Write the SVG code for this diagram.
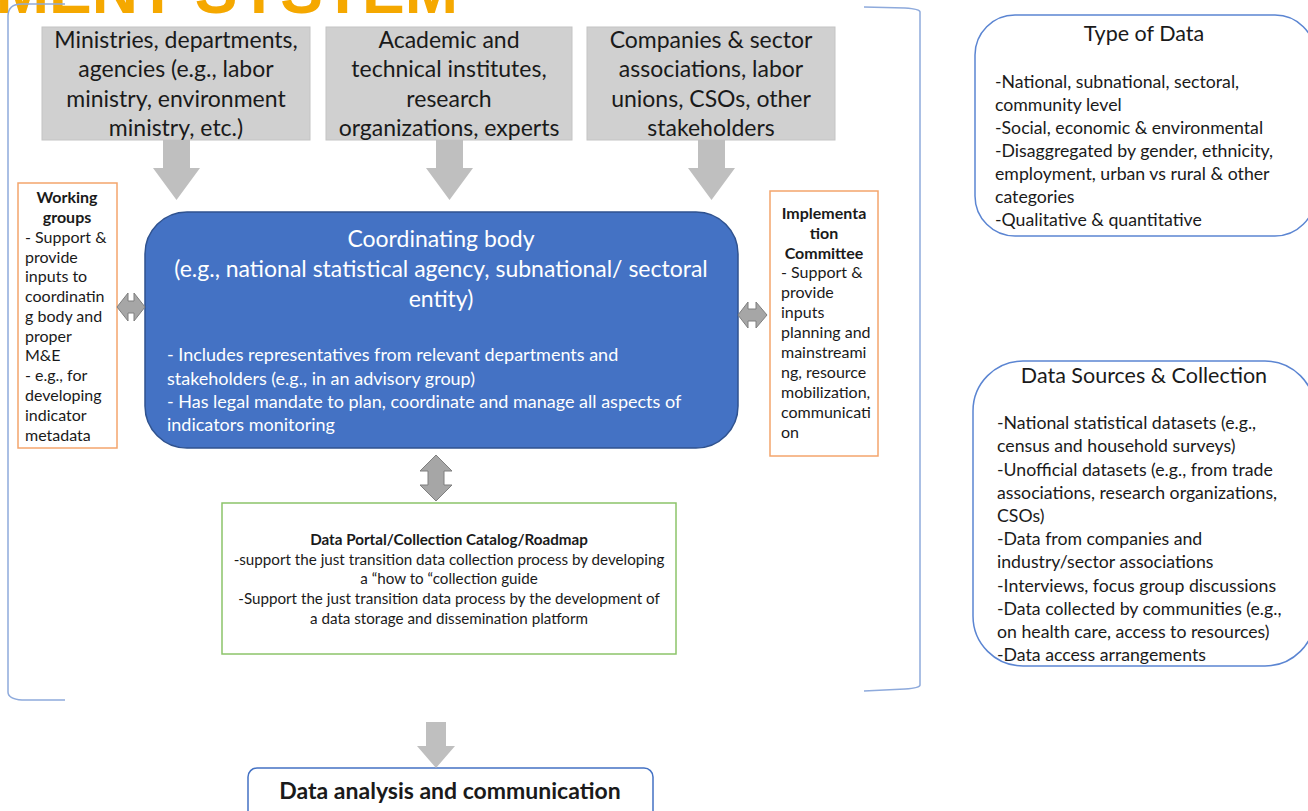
<svg xmlns="http://www.w3.org/2000/svg" width="1308" height="811" viewBox="0 0 1308 811">
  <style>
    .t { font-family: Lato, "Open Sans", "Liberation Sans", sans-serif; fill: #1a1a1a; }
    .b { font-weight: bold; }
    .c { text-anchor: middle; }
    .src rect { fill: #D0D0D0; stroke: #C4C4C4; stroke-width: 1; }
    .src text { font-size: 23px; }
    .side rect { fill: #ffffff; stroke: #F4A56C; stroke-width: 1.5; }
    .side text { font-size: 16px; }
    .card rect { fill: #ffffff; stroke: #5B85D2; stroke-width: 1.5; }
    .card text { font-size: 17.7px; }
    .card .h { font-size: 21.5px; }
    .frame { fill: none; stroke: #8EAADC; stroke-width: 1.5; }
    .down { fill: #BFBFBF; }
    .dbl { fill: #A6A6A6; stroke: #7F7F7F; stroke-width: 1; }
  </style>

  <!-- heading, clipped by the top edge -->
  <text x="458" y="13" font-family="'Liberation Sans', Arial, sans-serif" font-weight="bold" font-size="64" fill="#F5A800" text-anchor="end">MENT SYSTEM</text>

  <!-- bracket frame around the institutional setup -->
  <path class="frame" d="M65 4 L22 4 Q8 4 8 16 L8 692 Q8 699 22 700 L65 700"/>
  <path class="frame" d="M864 7 L905 8 Q920 9 920 12 L920 685 Q920 688 905 689 L864 691"/>

  <!-- data providers -->
  <g id="ministries" class="src">
    <rect x="42" y="27" width="268" height="113"/>
    <text class="t c" x="176" y="48">Ministries, departments,</text>
    <text class="t c" x="176" y="77">agencies (e.g., labor</text>
    <text class="t c" x="176" y="107">ministry, environment</text>
    <text class="t c" x="176" y="136">ministry, etc.)</text>
  </g>
  <g id="academia" class="src">
    <rect x="326" y="27" width="246" height="113"/>
    <text class="t c" x="449" y="48">Academic and</text>
    <text class="t c" x="449" y="77">technical institutes,</text>
    <text class="t c" x="449" y="107">research</text>
    <text class="t c" x="449" y="136">organizations, experts</text>
  </g>
  <g id="companies" class="src">
    <rect x="587" y="27" width="248" height="113"/>
    <text class="t c" x="711" y="48">Companies &amp; sector</text>
    <text class="t c" x="711" y="77">associations, labor</text>
    <text class="t c" x="711" y="107">unions, CSOs, other</text>
    <text class="t c" x="711" y="136">stakeholders</text>
  </g>

  <!-- coordinating body -->
  <g id="coordinating-body">
    <rect x="145" y="212" width="593" height="236" rx="42" fill="#4472C4" stroke="#2F528F" stroke-width="1.5"/>
    <g font-family="Lato, 'Open Sans', sans-serif" fill="#ffffff">
      <text x="441" y="247" font-size="23" text-anchor="middle">Coordinating body</text>
      <text x="441" y="277" font-size="23" text-anchor="middle">(e.g., national statistical agency, subnational/ sectoral</text>
      <text x="441" y="307" font-size="23" text-anchor="middle">entity)</text>
      <text x="167" y="361" font-size="18">- Includes representatives from relevant departments and</text>
      <text x="167" y="385" font-size="18">stakeholders (e.g., in an advisory group)</text>
      <text x="167" y="408" font-size="18">- Has legal mandate to plan, coordinate and manage all aspects of</text>
      <text x="167" y="431" font-size="18">indicators monitoring</text>
    </g>
  </g>

  <!-- working groups -->
  <g id="working-groups" class="side">
    <rect x="18" y="183" width="99" height="265"/>
    <text class="t b c" x="67" y="203">Working</text>
    <text class="t b c" x="67" y="223">groups</text>
    <text class="t" x="25" y="243">- Support &amp;</text>
    <text class="t" x="25" y="263">provide</text>
    <text class="t" x="25" y="282">inputs to</text>
    <text class="t" x="25" y="302">coordinatin</text>
    <text class="t" x="25" y="322">g body and</text>
    <text class="t" x="25" y="342">proper</text>
    <text class="t" x="25" y="361">M&amp;E</text>
    <text class="t" x="25" y="381">- e.g., for</text>
    <text class="t" x="25" y="401">developing</text>
    <text class="t" x="25" y="421">indicator</text>
    <text class="t" x="25" y="441">metadata</text>
  </g>

  <!-- implementation committee -->
  <g id="implementation-committee" class="side">
    <rect x="770" y="191" width="108" height="265"/>
    <text class="t b c" x="824" y="219">Implementa</text>
    <text class="t b c" x="824" y="239">tion</text>
    <text class="t b c" x="824" y="259">Committee</text>
    <text class="t" x="781" y="278">- Support &amp;</text>
    <text class="t" x="781" y="298">provide</text>
    <text class="t" x="781" y="318">inputs</text>
    <text class="t" x="781" y="338">planning and</text>
    <text class="t" x="781" y="358">mainstreami</text>
    <text class="t" x="781" y="378">ng, resource</text>
    <text class="t" x="781" y="398">mobilization,</text>
    <text class="t" x="781" y="418">communicati</text>
    <text class="t" x="781" y="438">on</text>
  </g>

  <!-- data portal -->
  <g id="data-portal">
    <rect x="222" y="503" width="454" height="151" fill="#ffffff" stroke="#8CC46A" stroke-width="1.5"/>
    <g class="t" font-size="15.2" text-anchor="middle">
      <text class="b" x="449" y="545">Data Portal/Collection Catalog/Roadmap</text>
      <text x="449" y="565">-support the just transition data collection process by developing</text>
      <text x="449" y="584">a “how to “collection guide</text>
      <text x="449" y="604">-Support the just transition data process by the development of</text>
      <text x="449" y="624">a data storage and dissemination platform</text>
    </g>
  </g>

  <!-- data analysis -->
  <g id="data-analysis">
    <rect x="248" y="768" width="405" height="60" rx="9" fill="#ffffff" stroke="#4472C4" stroke-width="1.5"/>
    <text class="t b c" x="450" y="799" font-size="23">Data analysis and communication</text>
  </g>

  <!-- type of data -->
  <g id="type-of-data" class="card">
    <rect x="975" y="15" width="340" height="221" rx="40"/>
    <text class="t c h" x="1144" y="41">Type of Data</text>
    <text class="t" x="995" y="88">-National, subnational, sectoral,</text>
    <text class="t" x="995" y="111">community level</text>
    <text class="t" x="995" y="134">-Social, economic &amp; environmental</text>
    <text class="t" x="995" y="157">-Disaggregated by gender, ethnicity,</text>
    <text class="t" x="995" y="180">employment, urban vs rural &amp; other</text>
    <text class="t" x="995" y="203">categories</text>
    <text class="t" x="995" y="226">-Qualitative &amp; quantitative</text>
  </g>

  <!-- data sources -->
  <g id="data-sources" class="card">
    <rect x="973" y="361" width="342" height="305" rx="50"/>
    <text class="t c h" x="1144" y="383">Data Sources &amp; Collection</text>
    <text class="t" x="997" y="429">-National statistical datasets (e.g.,</text>
    <text class="t" x="997" y="452">census and household surveys)</text>
    <text class="t" x="997" y="476">-Unofficial datasets (e.g., from trade</text>
    <text class="t" x="997" y="499">associations, research organizations,</text>
    <text class="t" x="997" y="522">CSOs)</text>
    <text class="t" x="997" y="545">-Data from companies and</text>
    <text class="t" x="997" y="568">industry/sector associations</text>
    <text class="t" x="997" y="592">-Interviews, focus group discussions</text>
    <text class="t" x="997" y="615">-Data collected by communities (e.g.,</text>
    <text class="t" x="997" y="638">on health care, access to resources)</text>
    <text class="t" x="997" y="661">-Data access arrangements</text>
  </g>

  <!-- connectors -->
  <g id="connectors">
    <path class="down" d="M163 140 H190 V168 H200 L176.5 200 L153 168 H163 Z"/>
    <path class="down" d="M436 140 H463 V168 H473 L449.5 200 L426 168 H436 Z"/>
    <path class="down" d="M698 140 H725 V168 H735 L711.5 200 L688 168 H698 Z"/>
    <path class="down" d="M426 722 H446 V746 H455 L436 768 L417 746 H426 Z"/>
    <path class="dbl" d="M117 307 L128 293 V301 H134 V293 L145 307 L134 321 V313 H128 V321 Z"/>
    <path class="dbl" d="M738 315 L748 302 V309 H756 V302 L767 315 L756 328 V321 H748 V328 Z"/>
    <path class="dbl" d="M436 455 L452 471 H444 V485 H452 L436 501 L420 485 H428 V471 H420 Z"/>
  </g>
</svg>
